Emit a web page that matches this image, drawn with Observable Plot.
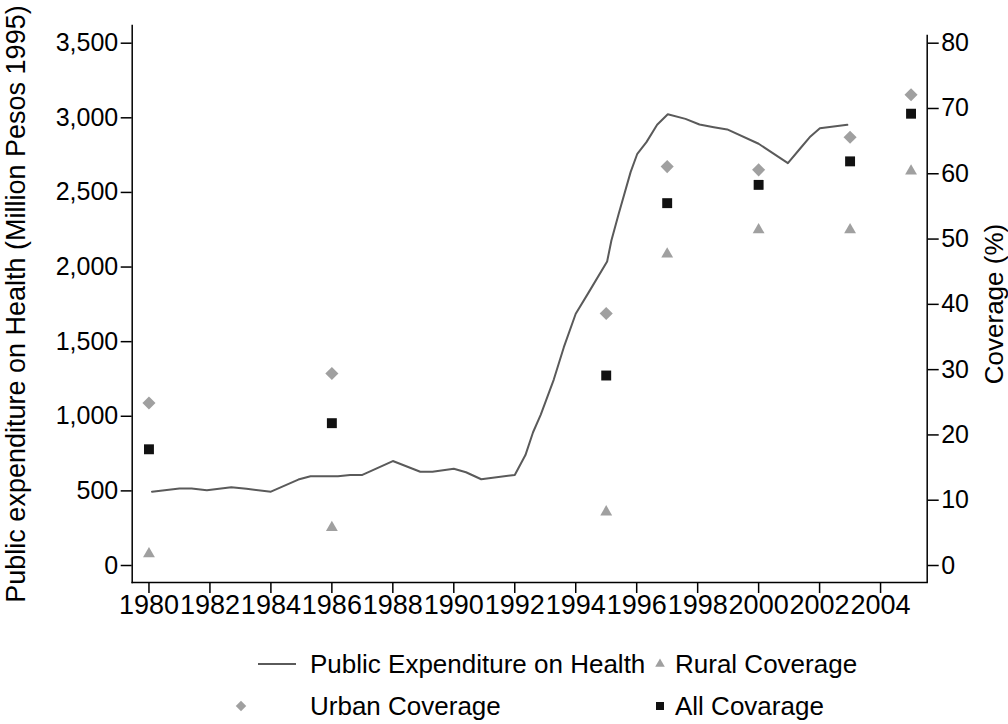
<!DOCTYPE html>
<html>
<head>
<meta charset="utf-8">
<script src="https://cdn.jsdelivr.net/npm/d3@7"></script>
<script src="https://cdn.jsdelivr.net/npm/@observablehq/plot@0.6"></script>
<style>
  html, body { margin: 0; padding: 0; background: #fff; }
  #wrap { position: relative; width: 1008px; height: 724px; font-family: "Liberation Sans", Arial, sans-serif; }
  .lg { position: absolute; font-size: 26px; color: #000; line-height: 1; white-space: nowrap; transform: translateY(-50%); }
  .key { position: absolute; }
</style>
</head>
<body>
<div id="wrap"></div>
<script>
// Public expenditure on health (Million Pesos 1995), vertices
const spendYear = [1980.1, 1981.0, 1981.4, 1981.9, 1982.7, 1983.2, 1984.0, 1984.9, 1985.3, 1986.2, 1986.6, 1987.0,
  1988.0, 1988.9, 1989.3, 1990.0, 1990.4, 1990.9, 1992.0, 1992.35, 1992.6, 1992.85, 1993.28, 1993.61, 1994.0,
  1994.43, 1995.03, 1995.17, 1995.41, 1995.8, 1996.02, 1996.32, 1996.67, 1997.02, 1997.6, 1998.06, 1998.53,
  1998.97, 2000.0, 2000.96, 2001.37, 2001.7, 2002.01, 2002.91];
const spendValue = [495, 516, 516, 505, 525, 514, 495, 576, 598, 598, 607, 607,
  700, 628, 628, 648, 625, 578, 607, 740, 893, 1010, 1246, 1463, 1687,
  1832, 2037, 2178, 2357, 2636, 2759, 2837, 2953, 3024, 2993, 2955, 2937,
  2922, 2826, 2696, 2796, 2875, 2930, 2953];

// Coverage (%)
const covYear = [1980, 1986, 1995, 1997, 2000, 2003, 2005];
const ruralCov = [1.8, 5.8, 8.2, 47.7, 51.4, 51.4, 60.4];
const urbanCov = [24.9, 29.4, 38.6, 61.1, 60.6, 65.6, 72.1];
const allCov = [17.8, 21.8, 29.1, 55.5, 58.3, 61.9, 69.2];

// Axis ticks
const leftTicks = [0, 500, 1000, 1500, 2000, 2500, 3000, 3500];
const rightTicks = [0, 10, 20, 30, 40, 50, 60, 70, 80];
const xTicks = [1980, 1982, 1984, 1986, 1988, 1990, 1992, 1994, 1996, 1998, 2000, 2002, 2004];

const leftMax = 3500, rightMax = 80;
const k = leftMax / rightMax; // coverage -> left scale

const spend = spendYear.map((x, i) => ({x, y: spendValue[i]}));
const cov = (arr) => covYear.map((x, i) => ({x, y: arr[i] * k}));

const xDomain = [1979.45, 2005.53];
const yDomain = [-113.9, 3618.6];

const grey = "#a0a0a0", lineC = "#5a5a5a";
const font = "'Liberation Sans', Arial, sans-serif";

const chart = Plot.plot({
  width: 1008,
  height: 630,
  marginLeft: 131.7,
  marginRight: 81.3,
  marginTop: 25,
  marginBottom: 48,
  style: {fontFamily: font, fontSize: "25px", color: "#000", background: "#fff"},
  x: {domain: xDomain},
  y: {domain: yDomain},
  marks: [
    Plot.frame({anchor: "left", stroke: "#000", strokeWidth: 1.5}),
    Plot.frame({anchor: "bottom", stroke: "#000", strokeWidth: 1.5}),
    Plot.ruleX([xDomain[1]], {y1: yDomain[0], y2: 81.2 * k, stroke: "#000", strokeWidth: 1.5}),
    Plot.axisY({ticks: leftTicks, tickSize: 11, tickPadding: 3, tickFormat: d3.format(","),
      label: null, strokeWidth: 1.5, fontSize: 25}),
    Plot.axisY({ticks: [], label: "Public expenditure on Health (Million Pesos 1995)", labelAnchor: "center",
      labelArrow: "none", labelOffset: 126, fontSize: 27}),
    Plot.axisY({anchor: "right", ticks: rightTicks.map(v => v * k), tickSize: 11, tickPadding: 3,
      tickFormat: d => String(Math.round(d / k)), label: null, strokeWidth: 1.5, fontSize: 25}),
    Plot.axisY({anchor: "right", ticks: [], label: "Coverage (%)", labelAnchor: "center", labelArrow: "none",
      labelOffset: 76, fontSize: 26}),
    Plot.axisX({ticks: xTicks, tickSize: 11, tickPadding: 1, tickFormat: d => String(d), label: null,
      strokeWidth: 1.5, fontSize: 27}),
    Plot.line(spend, {x: "x", y: "y", stroke: lineC, strokeWidth: 2}),
    Plot.dot(cov(urbanCov), {x: "x", y: "y", symbol: "diamond2", r: 5.9, fill: grey}),
    Plot.dot(cov(ruralCov), {x: "x", y: "y", symbol: "triangle", r: 4.4, fill: grey}),
    Plot.dot(cov(allCov), {x: "x", y: "y", symbol: "square", r: 5.6, fill: "#111"})
  ]
});

const wrap = document.getElementById("wrap");
chart.style.position = "absolute";
chart.style.left = "0px";
chart.style.top = "0px";
wrap.appendChild(chart);

// Legend below the chart
const legendItems = [
  {label: "Public Expenditure on Health", key: "line", kx: 277, tx: 310, y: 664},
  {label: "Rural Coverage", key: "triangle", kx: 660, tx: 675, y: 664},
  {label: "Urban Coverage", key: "diamond", kx: 241, tx: 310, y: 706},
  {label: "All Covarage", key: "square", kx: 660, tx: 675, y: 706}
];
for (const it of legendItems) {
  const t = document.createElement("div");
  t.className = "lg";
  t.style.left = it.tx + "px";
  t.style.top = it.y + "px";
  t.textContent = it.label;
  wrap.appendChild(t);
  const ns = "http://www.w3.org/2000/svg";
  const s = document.createElementNS(ns, "svg");
  s.setAttribute("class", "key");
  s.setAttribute("width", 40);
  s.setAttribute("height", 20);
  s.style.position = "absolute";
  s.style.left = (it.kx - 20) + "px";
  s.style.top = (it.y - 10) + "px";
  let el;
  if (it.key === "line") {
    el = document.createElementNS(ns, "line");
    el.setAttribute("x1", 1); el.setAttribute("x2", 39);
    el.setAttribute("y1", 10); el.setAttribute("y2", 10);
    el.setAttribute("stroke", lineC); el.setAttribute("stroke-width", 2);
  } else {
    el = document.createElementNS(ns, "path");
    const sym = it.key === "triangle" ? d3.symbolTriangle : it.key === "diamond" ? d3.symbolDiamond2 : d3.symbolSquare;
    const size = it.key === "triangle" ? 40 : it.key === "diamond" ? 70 : 64;
    el.setAttribute("d", d3.symbol(sym, size)());
    el.setAttribute("transform", "translate(20,10)");
    el.setAttribute("fill", it.key === "square" ? "#111" : grey);
  }
  s.appendChild(el);
  wrap.appendChild(s);
}
</script>
</body>
</html>
